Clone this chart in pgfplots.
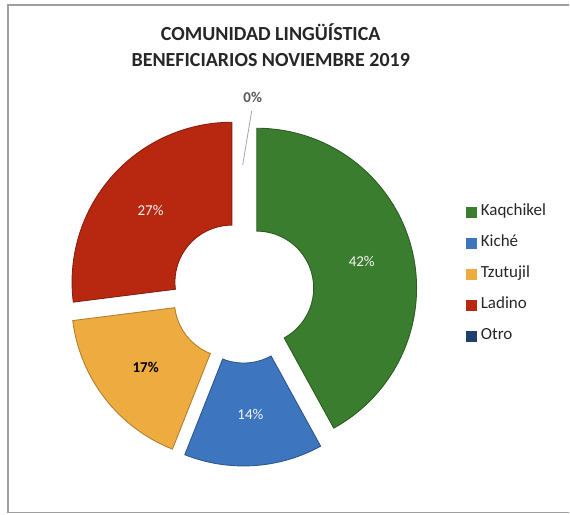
\documentclass[border=0pt]{standalone}
\usepackage{pgfplots}
\pgfplotsset{compat=1.18}
\usepackage{fontspec}
\setmainfont{Carlito}
\definecolor{cK}{HTML}{3B7D2F}
\definecolor{cQ}{HTML}{3D75BF}
\definecolor{cT}{HTML}{EDAB40}
\definecolor{cL}{HTML}{B82810}
\definecolor{cO}{HTML}{1F3E6D}
\tikzset{lblw/.style={text=white!92!gray, font=\fontsize{15}{17}\selectfont},
         lblb/.style={text=black, font=\fontsize{15}{17}\selectfont\bfseries}}
% #1 cumulative share before, #2 share, #3 colour, #4 label style
\newcommand\slice[4]{%
 \pgfmathsetmacro\ts{90-3.6*#1}%
 \pgfmathsetmacro\te{90-3.6*(#1+#2)}%
 \pgfmathsetmacro\tm{(\ts+\te)/2}%
 \pgfmathsetmacro\ox{243+14.5*cos(\tm)}%
 \pgfmathsetmacro\oy{223+14.5*sin(\tm)}%
 \pgfmathsetmacro\ax{\ox+160*cos(\ts)}%
 \pgfmathsetmacro\ay{\oy+160*sin(\ts)}%
 \pgfmathsetmacro\bx{\ox+57*cos(\te)}%
 \pgfmathsetmacro\by{\oy+57*sin(\te)}%
 \pgfmathsetmacro\lx{\ox+108.5*cos(\tm)}%
 \pgfmathsetmacro\ly{\oy+108.5*sin(\tm)}%
 \edef\doit{\noexpand\filldraw[fill=#3, draw=#3!75!black, line width=0.9pt]
   (axis cs:\ax,\ay) arc[start angle=\ts, end angle=\te, radius=160pt]
   -- (axis cs:\bx,\by) arc[start angle=\te, end angle=\ts, radius=57pt] -- cycle;
   \noexpand\node[#4] at (axis cs:\lx,\ly) {#2\noexpand\%};}%
 \doit}
\begin{document}
\begin{tikzpicture}
\begin{axis}[x=1pt, y=1pt, xmin=0, xmax=570, ymin=0, ymax=515,
  scale only axis, hide axis, clip=false,
  legend image code/.code={\fill[#1] (0pt,-5pt) rectangle (10pt,5pt); \path[draw=none, fill=none] (0pt,0pt) rectangle (14pt,0.1pt);},
  legend style={draw=none, fill=none, at={(axis cs:466,312)}, anchor=north west,
    inner sep=0pt, row sep=13pt, text=black!85,
    nodes={font=\fontsize{17}{19}\selectfont, text height=12pt, text depth=4pt, inner sep=1pt, anchor=west}},
  legend cell align=left]
\path (axis cs:0,0) rectangle (axis cs:570,515);
\draw[gray!75, line width=1.3pt] (axis cs:570,510) -- (axis cs:8,510) -- (axis cs:8,2) -- (axis cs:570,2);
\node[font=\fontsize{20}{24}\selectfont\bfseries, text=black!85] at (axis cs:271,483) {COMUNIDAD LINGÜÍSTICA};
\node[font=\fontsize{20}{24}\selectfont\bfseries, text=black!85] at (axis cs:271,455) {BENEFICIARIOS NOVIEMBRE 2019};
\slice{0}{42}{cK}{lblw}
\slice{42}{14}{cQ}{lblw}
\slice{56}{17}{cT}{lblb}
\slice{73}{27}{cL}{lblw}
\draw[gray!70, line width=0.8pt] (axis cs:243,350) -- (axis cs:252,404);
\node[font=\fontsize{15}{17}\selectfont\bfseries, text=black!65] at (axis cs:253,417) {0\%};
\addlegendimage{cK}\addlegendentry{Kaqchikel}
\addlegendimage{cQ}\addlegendentry{Kiché}
\addlegendimage{cT}\addlegendentry{Tzutujil}
\addlegendimage{cL}\addlegendentry{Ladino}
\addlegendimage{cO}\addlegendentry{Otro}
\end{axis}
\end{tikzpicture}
\end{document}
